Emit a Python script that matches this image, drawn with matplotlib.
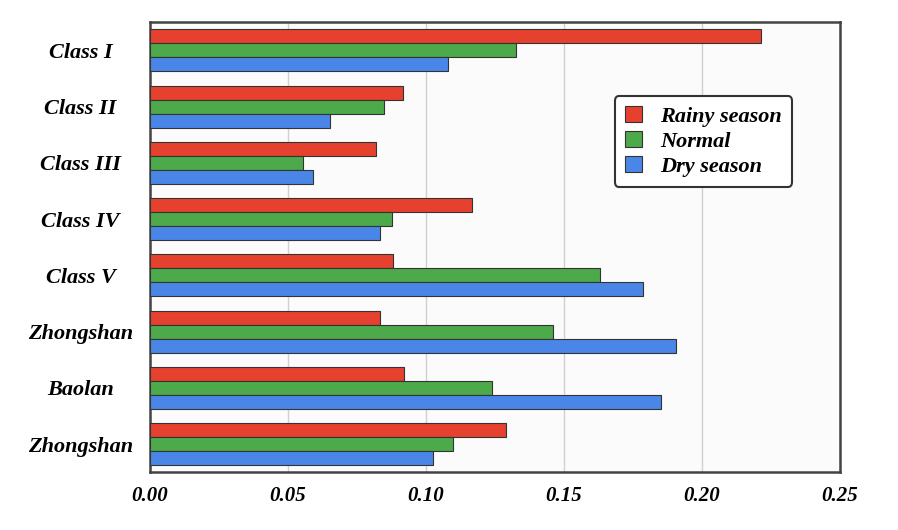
import numpy as np
import matplotlib.pyplot as plt

categories = ['Class I', 'Class II', 'Class III', 'Class IV', 'Class V',
              'Zhongshan', 'Baolan', 'Zhongshan']
rainy = [0.2214, 0.0917, 0.0819, 0.1167, 0.0880, 0.0833, 0.0920, 0.1290]
normal = [0.1326, 0.0848, 0.0554, 0.0877, 0.1630, 0.1460, 0.1239, 0.1100]
dry = [0.1080, 0.0652, 0.0591, 0.0833, 0.1786, 0.1906, 0.1851, 0.1025]

plt.rcParams['font.family'] = ['Liberation Serif', 'DejaVu Serif']

fig = plt.figure(figsize=(8.98, 5.30), dpi=100)
ax = fig.add_axes([0.167, 0.109, 0.768, 0.849])
ax.set_facecolor('#fbfbfb')

n = len(categories)
y = np.arange(n)[::-1].astype(float)
h = 0.25
kw = dict(height=h, edgecolor='#333333', linewidth=0.8, zorder=3)
ax.barh(y + h, rainy, color='#e6412f', label='Rainy season', **kw)
ax.barh(y, normal, color='#4caa4a', label='Normal', **kw)
ax.barh(y - h, dry, color='#4a86e8', label='Dry season', **kw)

ax.set_ylim(-0.5, n - 0.5)
ax.set_xlim(0, 0.25)
ax.set_yticks(y)
ax.set_yticklabels(categories, fontsize=16, fontweight='bold', style='italic',
                   ha='center')
ax.set_xticks(np.arange(0, 0.26, 0.05))
ax.set_xticklabels(['%.2f' % v for v in np.arange(0, 0.26, 0.05)],
                   fontsize=15, fontweight='bold', style='italic')
ax.tick_params(length=0, pad=10)
ax.tick_params(axis='y', pad=50)
ax.grid(axis='x', color='#d0d0d0', linewidth=1, zorder=0)
for s in ax.spines.values():
    s.set_color('#444444')
    s.set_linewidth(1.8)

leg = ax.legend(loc='upper right', bbox_to_anchor=(0.947, 0.86),
                prop={'size': 16, 'weight': 'bold', 'style': 'italic'},
                fancybox=True, framealpha=1, handlelength=0.8,
                handletextpad=0.8, borderpad=0.45, labelspacing=0.2)
leg.get_frame().set_edgecolor('#333333')
leg.get_frame().set_linewidth(1.5)

fig.savefig('out.png', dpi=100)
